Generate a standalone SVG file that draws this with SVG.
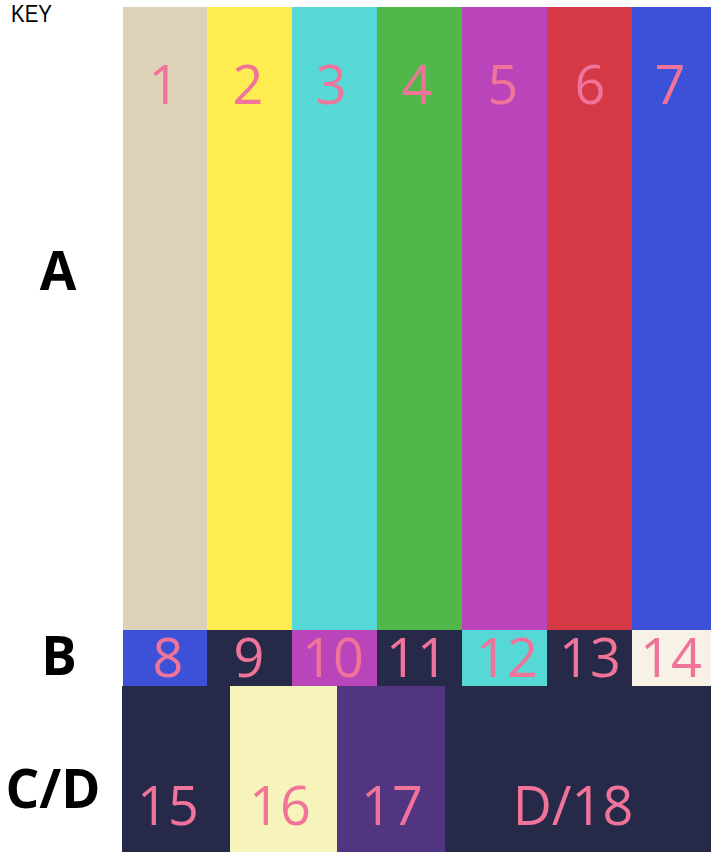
<svg xmlns="http://www.w3.org/2000/svg" width="711" height="852" viewBox="0 0 711 852">
<style>
.n{font-family:"Open Sans","Noto Sans",sans-serif;font-size:54px;fill:#F07399;text-anchor:middle}
.lbl{font-family:"Open Sans","Noto Sans",sans-serif;font-weight:bold;font-size:53px;fill:#000;text-anchor:middle}
.key{font-family:"Liberation Sans","Open Sans",sans-serif;font-size:23px;fill:#000}
</style>
<rect width="711" height="852" fill="#fff"/>
<text class="key" x="11" y="21.5" textLength="41" lengthAdjust="spacingAndGlyphs">KEY</text>
<text class="lbl" x="58" y="290">A</text>
<text class="lbl" x="59" y="675">B</text>
<text class="lbl" x="53" y="808">C/D</text>
<g id="n1"><rect x="123" y="7" width="84" height="623" fill="#DDD2B7"/><text class="n" x="164" y="104">1</text></g>
<g id="n2"><rect x="207" y="7" width="85" height="623" fill="#FEEC50"/><text class="n" x="248" y="104">2</text></g>
<g id="n3"><rect x="292" y="7" width="85" height="623" fill="#55D8D6"/><text class="n" x="331" y="104">3</text></g>
<g id="n4"><rect x="377" y="7" width="85" height="623" fill="#52B749"/><text class="n" x="417" y="104">4</text></g>
<g id="n5"><rect x="462" y="7" width="85" height="623" fill="#BA45BA"/><text class="n" x="503" y="104">5</text></g>
<g id="n6"><rect x="547" y="7" width="85" height="623" fill="#D53945"/><text class="n" x="590" y="104">6</text></g>
<g id="n7"><rect x="632" y="7" width="79" height="623" fill="#3D51D8"/><text class="n" x="670" y="104">7</text></g>
<g id="n8"><rect x="123" y="630" width="84" height="56" fill="#3D51D8"/><text class="n" x="168" y="677">8</text></g>
<g id="n9"><rect x="207" y="630" width="85" height="56" fill="#262A48"/><text class="n" x="249" y="677">9</text></g>
<g id="n10"><rect x="292" y="630" width="85" height="56" fill="#BA45BA"/><text class="n" x="333" y="677">10</text></g>
<g id="n11"><rect x="377" y="630" width="85" height="56" fill="#262A48"/><text class="n" x="417" y="677">11</text></g>
<g id="n12"><rect x="462" y="630" width="85" height="56" fill="#55D8D6"/><text class="n" x="507" y="677">12</text></g>
<g id="n13"><rect x="547" y="630" width="85" height="56" fill="#262A48"/><text class="n" x="590" y="677">13</text></g>
<g id="n14"><rect x="632" y="630" width="79" height="56" fill="#F8F1E5"/><text class="n" x="671" y="677">14</text></g>
<g id="n15"><rect x="122" y="686" width="108" height="166" fill="#262A48"/><text class="n" x="168" y="825">15</text></g>
<g id="n16"><rect x="230" y="686" width="107" height="166" fill="#F7F4BB"/><text class="n" x="280" y="825">16</text></g>
<g id="n17"><rect x="337" y="686" width="108" height="166" fill="#523581"/><text class="n" x="392" y="825">17</text></g>
<g id="n18"><rect x="445" y="686" width="266" height="166" fill="#262A48"/><text class="n" x="573" y="825">D/18</text></g>
<g id="connectors"/>
</svg>
